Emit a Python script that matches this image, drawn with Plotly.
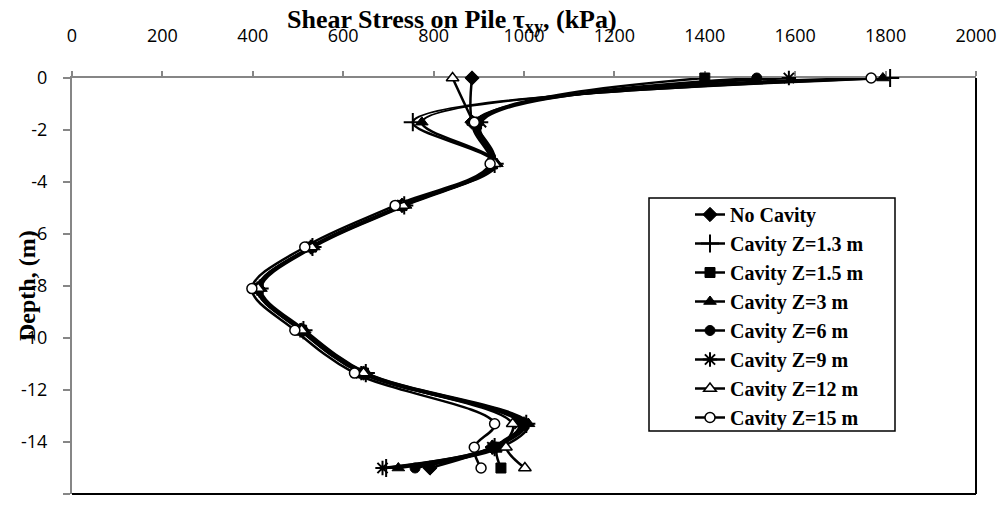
import plotly.graph_objects as go

depth = [0, -1.7, -3.3, -4.9, -6.5, -8.1, -9.7, -11.35, -13.3, -14.2, -15]

no_cavity = [885, 885, 930, 730, 530, 412, 508, 645, 1000, 930, 792]
cav_1_3 = [1810, 754, 935, 735, 532, 415, 512, 650, 1005, 935, 695]
cav_1_5 = [1400, 895, 930, 730, 530, 412, 508, 645, 1000, 940, 949]
cav_3 = [1794, 774, 940, 738, 535, 418, 515, 652, 1010, 950, 722]
cav_6 = [1515, 900, 930, 728, 528, 410, 505, 640, 995, 935, 759]
cav_9 = [1586, 905, 930, 730, 528, 410, 505, 640, 990, 930, 687]
cav_12 = [842, 888, 935, 732, 530, 412, 508, 645, 975, 960, 1002]
cav_15 = [1768, 890, 925, 715, 515, 398, 493, 625, 935, 890, 905]

series_names = ["No Cavity", "Cavity Z=1.3 m", "Cavity Z=1.5 m", "Cavity Z=3 m",
                "Cavity Z=6 m", "Cavity Z=9 m", "Cavity Z=12 m", "Cavity Z=15 m"]
series_values = [no_cavity, cav_1_3, cav_1_5, cav_3, cav_6, cav_9, cav_12, cav_15]

x_ticks = list(range(0, 2001, 200))
y_ticks = list(range(-16, 1, 2))

# marker styles: (symbol, fill, size, line width)
styles = [
    ("diamond", "black", 11, 1),
    ("cross-thin", "black", 13, 2),
    ("square", "black", 10, 1),
    ("triangle-up", "black", 11, 1),
    ("circle", "black", 10, 1),
    ("asterisk", "black", 12, 2),
    ("triangle-up", "white", 11, 1.5),
    ("circle", "white", 10, 1.5),
]

fig = go.Figure()
for name, vals, (sym, fill, size, lw) in zip(series_names, series_values, styles):
    fig.add_trace(go.Scatter(
        x=vals, y=depth, name=name, mode="lines+markers", cliponaxis=False,
        line=dict(color="black", width=2.5, shape="spline", smoothing=1),
        marker=dict(symbol=sym, color=fill, size=size,
                    line=dict(color="black", width=lw)),
    ))

L, R, T, B = 72, 24, 78, 11
W, H = 1000, 505
pw = W - L - R
ph = H - T - B


def px_x(p):
    return (p - L) / pw


def px_y(p):
    return (H - B - p) / ph


fig.update_layout(
    width=W, height=H,
    margin=dict(l=L, r=R, t=T, b=B, autoexpand=False),
    paper_bgcolor="white", plot_bgcolor="white",
    showlegend=True,
    legend=dict(
        x=px_x(690), y=px_y(195), xanchor="left", yanchor="top",
        bgcolor="rgba(0,0,0,0)", borderwidth=0,
        font=dict(family="Liberation Serif", size=20, color="black", weight="bold"),
        tracegroupgap=0,
    ),
    xaxis=dict(
        side="top", range=[0, 2000], tickvals=x_ticks, ticktext=[str(v) for v in x_ticks],
        showgrid=False, zeroline=False, showline=True, linecolor="#868686", linewidth=2,
        ticks="outside", ticklen=5, tickcolor="#868686", tickwidth=2,
        tickfont=dict(family="Open Sans", size=18, color="black"),
        ticklabelstandoff=22, automargin=False, layer="below traces",
    ),
    yaxis=dict(
        range=[-16, 0], tickvals=y_ticks, ticktext=[str(v) for v in y_ticks],
        showgrid=False, zeroline=False, showline=True, linecolor="#868686", linewidth=2,
        ticks="outside", ticklen=7, tickcolor="#868686", tickwidth=2,
        tickfont=dict(family="Open Sans", size=18, color="black"),
        ticklabelstandoff=12, automargin=False, layer="below traces",
    ),
    shapes=[
        dict(type="line", xref="paper", yref="paper", x0=1, x1=1, y0=0, y1=1,
             line=dict(color="black", width=2)),
        dict(type="line", xref="paper", yref="paper", x0=0, x1=1, y0=0, y1=0,
             line=dict(color="black", width=2)),
        dict(type="rect", xref="paper", yref="paper",
             x0=px_x(649), x1=px_x(895), y0=px_y(431), y1=px_y(198),
             line=dict(color="black", width=1.5), fillcolor="white", layer="above"),
    ],
    annotations=[
        dict(text="<b>Shear Stress on Pile τ<sub>xy</sub>, (kPa)</b>",
             xref="paper", yref="paper", x=px_x(452), y=px_y(3),
             xanchor="center", yanchor="top", showarrow=False,
             font=dict(family="Liberation Serif", size=26, color="black")),
        dict(text="<b>Depth, (m)</b>", textangle=-90,
             xref="paper", yref="paper", x=px_x(27), y=0.5,
             xanchor="center", yanchor="middle", showarrow=False,
             font=dict(family="Liberation Serif", size=24, color="black")),
    ],
)

fig.write_html("out.html", config={"displayModeBar": False},
               post_script="document.body.style.margin='0px';document.body.style.overflow='hidden';")
